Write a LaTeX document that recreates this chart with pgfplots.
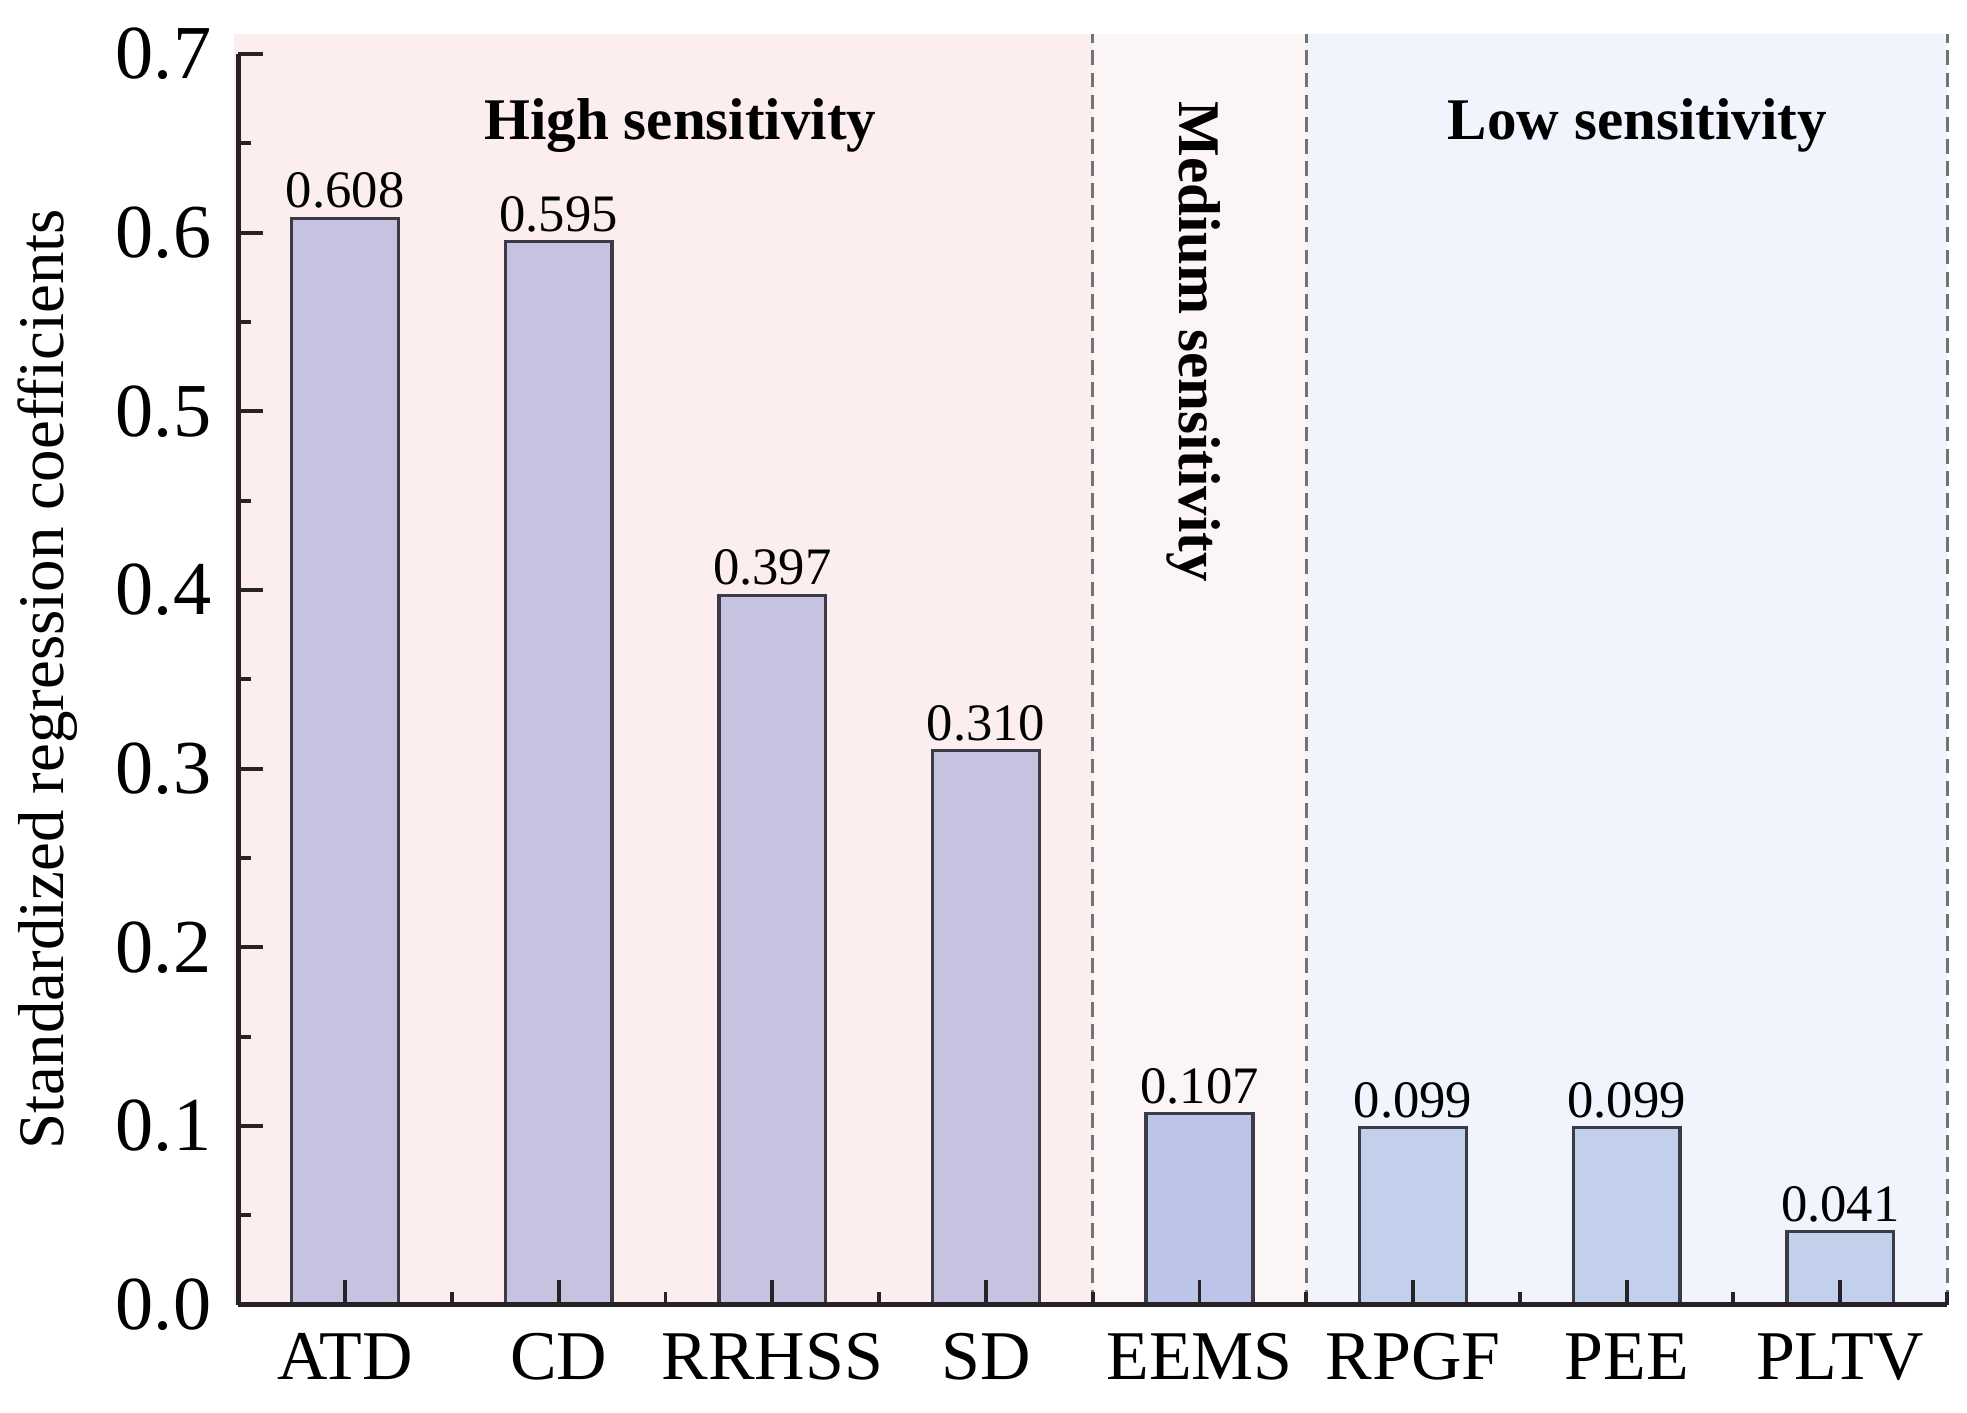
\documentclass[border=0pt]{standalone}
\usepackage{fontspec}
\setmainfont{Liberation Serif}
\usepackage{pgfplots}
\pgfplotsset{compat=1.18}
\definecolor{hibar}{RGB}{198,195,224}
\definecolor{medbar}{RGB}{189,196,233}
\definecolor{lobar}{RGB}{194,208,236}
\definecolor{hibg}{RGB}{252,237,238}
\definecolor{medbg}{RGB}{252,245,245}
\definecolor{lobg}{RGB}{241,244,252}
\definecolor{axcol}{RGB}{40,34,38}
\definecolor{edgecol}{RGB}{60,58,68}
\begin{document}
\begin{tikzpicture}
\begin{axis}[
  scale only axis, width=347.4pt, height=254.3pt,
  xmin=-0.5, xmax=7.5, ymin=0, ymax=0.7,
  axis x line*=bottom, axis y line*=left,
  axis on top, clip=false,
  axis line style={line width=0.9pt, color=axcol},
  every tick/.style={line width=0.8pt, color=axcol},
  tick align=inside,
  major tick length=5pt, minor tick length=2.5pt,
  xtick={0,1,2,3,4,5,6,7},
  xticklabels={ATD,CD,RRHSS,SD,EEMS,RPGF,PEE,PLTV},
  minor xtick={0.5,1.5,2.5,3.5,4.5,5.5,6.5,7.5},
  ytick={0,0.1,0.2,0.3,0.4,0.5,0.6,0.7},
  minor ytick={0.05,0.15,0.25,0.35,0.45,0.55,0.65},
  /pgf/number format/assume math mode=true,
  xticklabel style={font=\fontsize{14.2}{17}\selectfont, yshift=-2.3pt},
  yticklabel style={font=\fontsize{15.5}{18}\selectfont, xshift=-2pt,
    /pgf/number format/fixed, /pgf/number format/fixed zerofill,
    /pgf/number format/precision=1},
  ylabel={Standardized regression coefficients},
  ylabel style={font=\fontsize{13.2}{16}\selectfont, at={(rel axis cs:-0.1116,0.5)}, anchor=center},
  nodes near coords={\pgfmathprintnumber[fixed,fixed zerofill,precision=3]{\pgfplotspointmeta}},
  every node near coord/.append style={font=\fontsize{10.7}{12}\selectfont, anchor=south, inner sep=0pt, yshift=1.6pt, text=black},
]
\path (rel axis cs:-0.1395,-0.0863) rectangle (rel axis cs:1.0117,1.0431);
\fill[hibg] (axis cs:-0.52,0) rectangle (axis cs:3.5,0.711);
\fill[medbg] (axis cs:3.5,0) rectangle (axis cs:4.5,0.711);
\fill[lobg] (axis cs:4.5,0) rectangle (axis cs:7.5,0.711);
\draw[gray!90!black, line width=0.6pt, dash pattern=on 3pt off 1.5pt] (axis cs:3.5,0) -- (axis cs:3.5,0.711);
\draw[gray!90!black, line width=0.6pt, dash pattern=on 3pt off 1.5pt] (axis cs:4.5,0) -- (axis cs:4.5,0.711);
\draw[gray!90!black, line width=0.6pt, dash pattern=on 3pt off 1.5pt] (axis cs:7.5,0) -- (axis cs:7.5,0.711);
\addplot[ybar, bar width=0.5, bar shift=0pt, fill=hibar, draw=edgecol, line width=0.7pt]
  coordinates {(0,0.608) (1,0.595) (2,0.397) (3,0.310)};
\addplot[ybar, bar width=0.5, bar shift=0pt, fill=medbar, draw=edgecol, line width=0.7pt]
  coordinates {(4,0.107)};
\addplot[ybar, bar width=0.5, bar shift=0pt, fill=lobar, draw=edgecol, line width=0.7pt]
  coordinates {(5,0.099) (6,0.099) (7,0.041)};
\node[font=\bfseries\fontsize{12}{14}\selectfont, anchor=base, inner sep=0pt] at (axis cs:1.57,0.6523) {High sensitivity};
\node[font=\bfseries\fontsize{12}{14}\selectfont, anchor=base, inner sep=0pt] at (axis cs:6.05,0.6523) {Low sensitivity};
\node[font=\bfseries\fontsize{12}{14}\selectfont, rotate=-90, anchor=base west, inner sep=0pt] at (axis cs:3.905,0.674) {Medium sensitivity};
\end{axis}
\end{tikzpicture}
\end{document}
